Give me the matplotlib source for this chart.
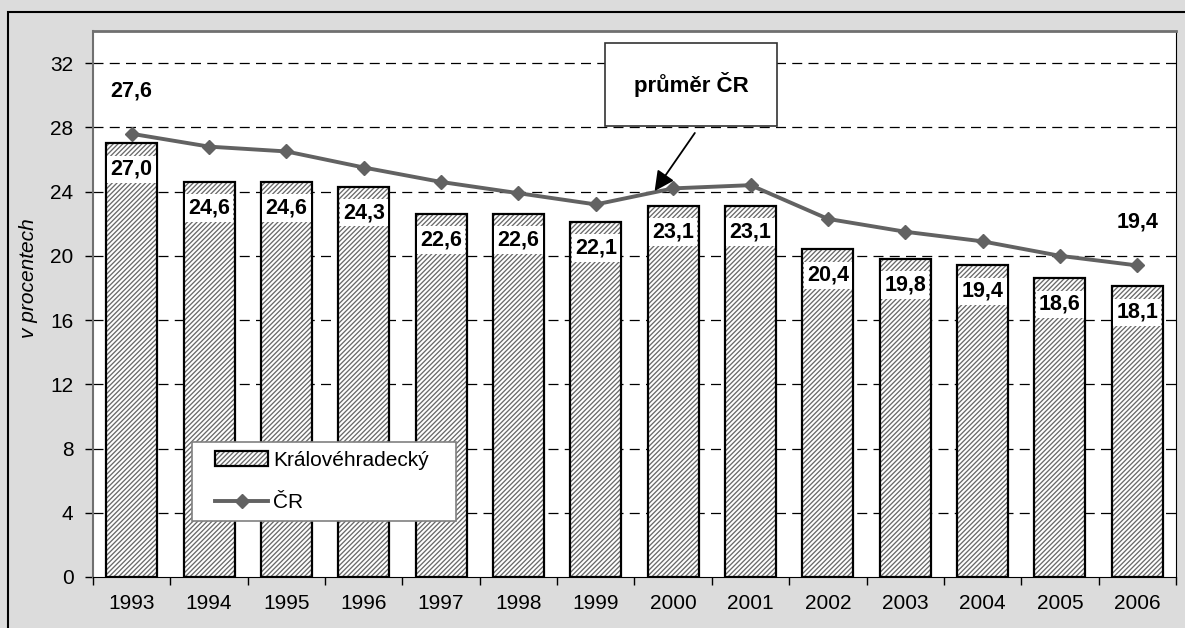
import numpy as np
import matplotlib
matplotlib.use('Agg')
import matplotlib.pyplot as plt
from matplotlib.patches import Patch, Rectangle
from matplotlib.lines import Line2D
from matplotlib.ticker import FixedLocator
from matplotlib.legend_handler import HandlerTuple

# data
years = ['1993', '1994', '1995', '1996', '1997', '1998', '1999',
         '2000', '2001', '2002', '2003', '2004', '2005', '2006']
kraj = [27.0, 24.6, 24.6, 24.3, 22.6, 22.6, 22.1, 23.1, 23.1, 20.4, 19.8, 19.4, 18.6, 18.1]
cr = [27.6, 26.8, 26.5, 25.5, 24.6, 23.9, 23.2, 24.2, 24.4, 22.3, 21.5, 20.9, 20.0, 19.4]
yticks = [0, 4, 8, 12, 16, 20, 24, 28, 32]

plt.rcParams['font.family'] = ['Liberation Sans', 'DejaVu Sans']
plt.rcParams['hatch.color'] = '#6a6a6a'
plt.rcParams['hatch.linewidth'] = 0.95

bg = '#dcdcdc'
line_col = '#626262'
hatch = '///////'

fig = plt.figure(figsize=(11.85, 6.28), dpi=100, facecolor=bg)
ax = fig.add_axes([93 / 1185, 51 / 628, 1083 / 1185, 546 / 628])
ax.set_facecolor('white')

x = np.arange(len(years))

# hatched bars (no edge -> hatch keeps the rcParams colour), then black outlines on top
ax.bar(x, kraj, width=0.66, color='white', hatch=hatch, linewidth=0, zorder=2)
ax.bar(x, kraj, width=0.66, fill=False, edgecolor='black', linewidth=1.6, zorder=3)

# value labels in white boxes inside the bars
for i, v in enumerate(kraj):
    ax.annotate(f'{v:.1f}'.replace('.', ','), xy=(i, v), xytext=(0, -26),
                textcoords='offset pixels', ha='center', va='center',
                fontsize=15.5, fontweight='bold', zorder=4,
                bbox=dict(boxstyle='square,pad=0.15', facecolor='white', edgecolor='none'))

ax.plot(x, cr, color=line_col, linewidth=2.8, marker='D', markersize=7.5,
        zorder=5)

# first and last value of the national line
for i in [0, len(cr) - 1]:
    ax.annotate(f'{cr[i]:.1f}'.replace('.', ','), xy=(i, cr[i]), xytext=(0, 43),
                textcoords='offset pixels', ha='center', va='center',
                fontsize=15.5, fontweight='bold')

ax.set_xlim(-0.5, len(years) - 0.5)
ax.set_ylim(0, 34)
ax.set_yticks(yticks)
ax.set_yticklabels([str(t) for t in yticks], fontsize=15)
ax.set_xticks(x)
ax.set_xticklabels(years, fontsize=15)
ax.xaxis.set_minor_locator(FixedLocator(np.arange(-0.5, len(years), 1.0)))
ax.tick_params(axis='x', which='major', length=0, pad=12)
ax.tick_params(axis='x', which='minor', length=6, width=1, direction='out')
ax.tick_params(axis='y', length=6, width=1, direction='out', pad=8)

for t in yticks[1:]:
    ax.axhline(t, color='black', linewidth=0.9, linestyle=(0, (8, 5)), zorder=1)

ax.spines['top'].set_color('#707070')
ax.spines['top'].set_linewidth(2)
ax.spines['left'].set_color('#707070')
ax.spines['left'].set_linewidth(1.5)
ax.spines['right'].set_color('black')
ax.spines['bottom'].set_color('black')

ax.set_ylabel('v procentech', fontsize=15, fontstyle='italic')
ax.yaxis.label.set_va('center')
ax.yaxis.set_label_coords(-0.0595, 0.548)

# callout box with arrow
ax.text(7.23, 30.67, 'průměr ČR', ha='center', va='center', fontsize=16,
        fontweight='bold', zorder=6,
        bbox=dict(boxstyle='square,pad=1.3', facecolor='white', edgecolor='#333333', linewidth=1.2))
ax.annotate('', xy=(6.76, 24.03), xytext=(7.28, 27.65),
            arrowprops=dict(arrowstyle='-|>', color='black', lw=1.3, mutation_scale=30,
                            shrinkA=0, shrinkB=0), zorder=6)

# legend: frame drawn separately so the entries can sit inset like the original
ax.add_patch(Rectangle((0.0914, 0.1026), 0.2438, 0.145, transform=ax.transAxes,
                       facecolor='white', edgecolor='#808080', linewidth=1.2, zorder=6.5))
h_bar = (Patch(facecolor='white', hatch=hatch, linewidth=0),
         Patch(fill=False, edgecolor='black', linewidth=1.6))
h_line = Line2D([], [], color=line_col, linewidth=2.8, marker='D', markersize=7.5)
leg = ax.legend([h_bar, h_line], ['Královéhradecký', 'ČR'],
                handler_map={tuple: HandlerTuple(ndivide=1, pad=0)},
                loc='center left', bbox_to_anchor=(0.1127, 0.175),
                borderaxespad=0, borderpad=0, fontsize=15, handlelength=2.55,
                handletextpad=0.25, labelspacing=1.1, frameon=False)
leg.set_zorder(7)

# outer frame of the picture
fig.patches.append(Rectangle((8 / 1185, -0.05), 1.2, 0.05 + 616 / 628,
                             transform=fig.transFigure, fill=False,
                             edgecolor='black', linewidth=1.5))

fig.savefig('out.png', dpi=100, facecolor=bg)
